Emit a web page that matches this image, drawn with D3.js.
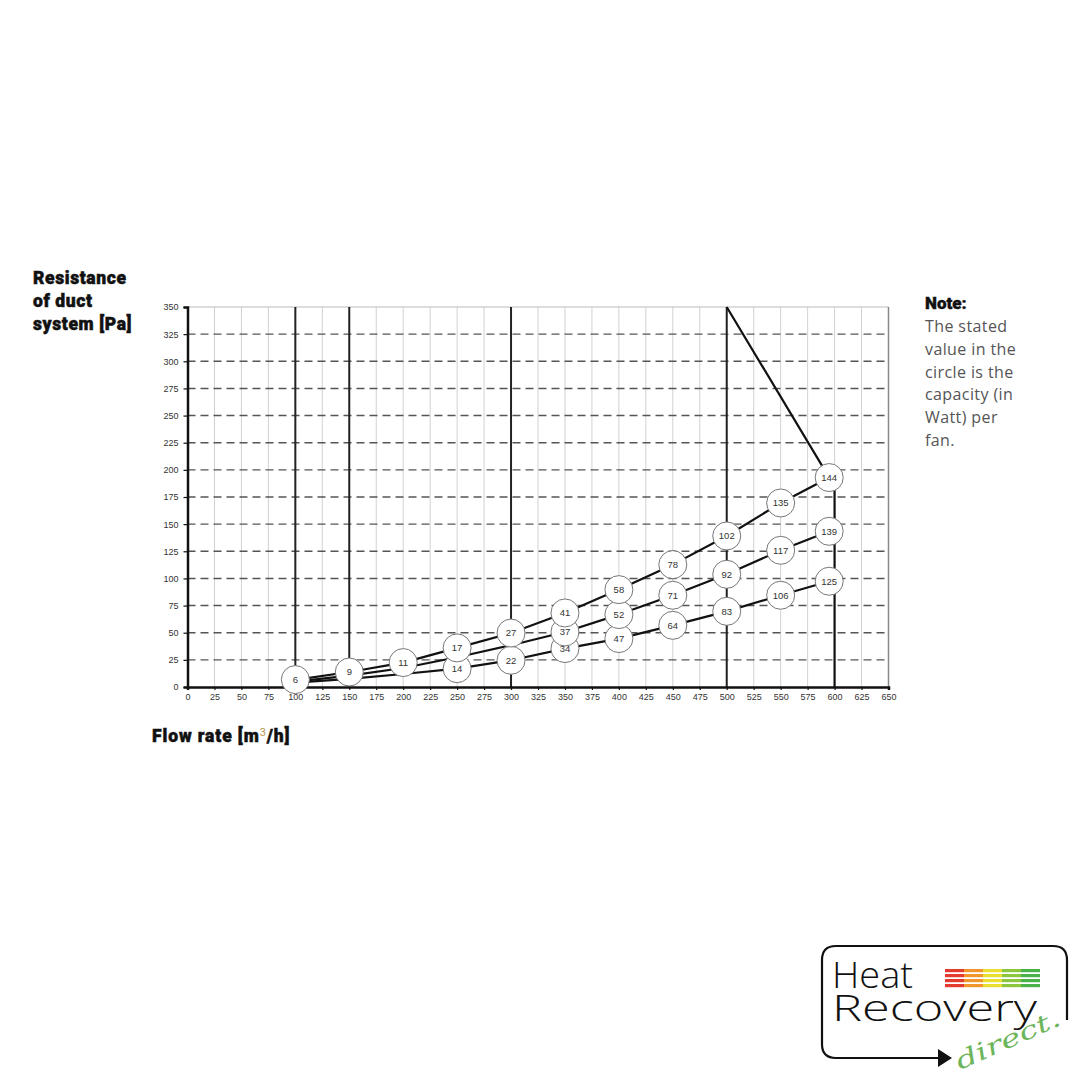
<!DOCTYPE html>
<html>
<head>
<meta charset="utf-8">
<script src="https://cdn.jsdelivr.net/npm/d3@7"></script>
<style>
  html, body { margin: 0; padding: 0; background: #fff; }
  svg { display: block; }
</style>
</head>
<body>
<svg id="chart" width="1080" height="1080"></svg>
<script>
// ---------- data ----------
const flowTicks = d3.range(0, 651, 25);
const pressureTicks = d3.range(0, 351, 25);
const heavyVerticals = [100, 150, 300, 500];

// three fan curves: [flow, pressure]
const upperCurve = [[100, 6.5], [150, 13.8], [200, 22.5], [250, 36], [300, 49.7], [350, 68.2], [400, 89.7], [450, 112.7], [500, 139.1], [550, 169.5], [595, 192.9]];
const middleCurve = [[100, 5], [150, 10.5], [200, 17.5], [250, 27.4], [300, 38.5], [350, 50.7], [400, 66.7], [450, 84.5], [500, 103.8], [550, 125.9], [595, 143.4]];
const lowerCurve = [[100, 4], [150, 7.5], [200, 12], [250, 16.9], [300, 24.6], [350, 35.4], [400, 44.6], [450, 56.8], [500, 69.7], [550, 84.5], [595, 97.4]];
// boundary (max) line
const boundaryLine = [[500, 350], [595, 192.9], [600, 185], [600, 0]];

// capacity labels (Watt) shown in circles: [flow, pressure, watt]
const upperLabels = [[100, 6.8, 6], [150, 13.8, 9], [200, 22.5, 11], [250, 36, 17], [300, 49.7, 27], [350, 68.2, 41], [400, 89.7, 58], [450, 112.7, 78], [500, 139.1, 102], [550, 169.5, 135], [595, 192.9, 144]];
const middleLabels = [[350, 50.7, 37], [400, 66.7, 52], [450, 84.5, 71], [500, 103.8, 92], [550, 125.9, 117], [595, 143.4, 139]];
const lowerLabels = [[250, 16.9, 14], [300, 24.6, 22], [350, 35.4, 34], [400, 44.6, 47], [450, 56.8, 64], [500, 69.7, 83], [550, 84.5, 106], [595, 97.4, 125]];

const yTitleLines = ["Resistance", "of duct", "system [Pa]"];
const noteLines = ["The stated", "value in the", "circle is the", "capacity (in", "Watt) per", "fan."];

// ---------- drawing ----------
const svg = d3.select("#chart");
svg.append("rect").attr("width", 1080).attr("height", 1080).attr("fill", "#fff");

const x = d3.scaleLinear().domain([0, 650]).range([187.5, 888.5]);
const y = d3.scaleLinear().domain([0, 350]).range([687, 307]);

const g = svg.append("g");

// light vertical grid
g.selectAll(".vgrid").data(flowTicks.filter(d => d > 0 && d < 650)).enter().append("line")
  .attr("x1", d => x(d)).attr("x2", d => x(d))
  .attr("y1", y(350)).attr("y2", y(0))
  .attr("stroke", "#d2d2d2").attr("stroke-width", 1);

// dashed horizontal grid
g.selectAll(".hgrid").data(pressureTicks.filter(d => d > 0 && d < 350)).enter().append("line")
  .attr("x1", x(0)).attr("x2", x(650))
  .attr("y1", d => y(d)).attr("y2", d => y(d))
  .attr("stroke", "#555").attr("stroke-width", 1.4)
  .attr("stroke-dasharray", "8,5");

// top border & right border
g.append("line").attr("x1", x(0)).attr("x2", x(650)).attr("y1", y(350)).attr("y2", y(350))
  .attr("stroke", "#bbb").attr("stroke-width", 1.2);
g.append("line").attr("x1", x(650)).attr("x2", x(650)).attr("y1", y(350)).attr("y2", y(0))
  .attr("stroke", "#888").attr("stroke-width", 1.5);

// heavy verticals
g.selectAll(".heavy").data(heavyVerticals).enter().append("line")
  .attr("x1", d => x(d)).attr("x2", d => x(d))
  .attr("y1", y(350)).attr("y2", y(0))
  .attr("stroke", "#222").attr("stroke-width", 2);

// axes
const xAxis = d3.axisBottom(x).tickValues(flowTicks).tickSize(3).tickPadding(4);
const yAxis = d3.axisLeft(y).tickValues(pressureTicks).tickSize(4).tickPadding(5);
const gx = g.append("g").attr("transform", `translate(0,${y(0)})`).call(xAxis);
const gy = g.append("g").attr("transform", `translate(${x(0)},0)`).call(yAxis);
[gx, gy].forEach(a => {
  a.select(".domain").attr("stroke", "#111").attr("stroke-width", 2.5);
  a.selectAll(".tick line").attr("stroke", "#111").attr("stroke-width", 1.2);
  a.selectAll(".tick text").attr("fill", "#333")
    .style("font-family", "'Liberation Sans', Arial, sans-serif").style("font-size", "9px");
});

// curves
const line = d3.line().x(d => x(d[0])).y(d => y(d[1]));
[upperCurve, middleCurve, lowerCurve, boundaryLine].forEach(c => {
  g.append("path").attr("d", line(c)).attr("fill", "none")
    .attr("stroke", "#111").attr("stroke-width", 2.2).attr("stroke-linejoin", "round");
});

// circles
const allLabels = [...lowerLabels, ...middleLabels, ...upperLabels];
const circ = g.selectAll(".lab").data(allLabels).enter().append("g")
  .attr("transform", d => `translate(${x(d[0])},${y(d[1])})`);
circ.append("circle").attr("r", 14).attr("fill", "#fff").attr("stroke", "#777").attr("stroke-width", 1);
circ.append("text").text(d => d[2]).attr("text-anchor", "middle").attr("dy", "0.35em")
  .attr("fill", "#333").style("font-family", "'Liberation Sans', Arial, sans-serif").style("font-size", "9.5px");

// y title
svg.append("text").attr("x", 33).attr("y", 284)
  .style("font-family", "Roboto, 'Noto Sans', sans-serif").style("font-weight", 900)
  .style("font-size", "17.5px").attr("fill", "#111").style("letter-spacing", "0.6px")
  .attr("stroke", "#111").attr("stroke-width", 0.5)
  .selectAll("tspan").data(yTitleLines).enter().append("tspan")
  .attr("x", 33).attr("dy", (d, i) => i === 0 ? 0 : 23).text(d => d);

// x title
const xt = svg.append("text").attr("x", 152).attr("y", 742)
  .style("font-family", "Roboto, 'Noto Sans', sans-serif").style("font-weight", 900)
  .style("font-size", "17.5px").attr("fill", "#111").style("letter-spacing", "0.9px")
  .attr("stroke", "#111").attr("stroke-width", 0.5);
xt.append("tspan").text("Flow rate [m");
xt.append("tspan").text("3").attr("dy", -6).style("font-size", "11px").style("font-weight", 400)
  .attr("fill", "#b8954a").attr("stroke", "none");
xt.append("tspan").text("/h]").attr("dy", 6);

// note
svg.append("text").attr("x", 925).attr("y", 309).text("Note:")
  .style("font-family", "Roboto, 'Noto Sans', sans-serif").style("font-weight", 900)
  .style("font-size", "17px").attr("fill", "#111").attr("stroke", "#111").attr("stroke-width", 0.4);
svg.append("text").attr("x", 925).attr("y", 332)
  .style("font-family", "'Open Sans', 'Noto Sans', sans-serif").style("font-size", "16px").attr("fill", "#555")
  .style("letter-spacing", "0.4px")
  .selectAll("tspan").data(noteLines).enter().append("tspan")
  .attr("x", 925).attr("dy", (d, i) => i === 0 ? 0 : 22.8).text(d => d);

// ---------- logo ----------
const logo = svg.append("g");
logo.append("path")
  .attr("d", "M 950 1058 L 836 1058 Q 822 1058 822 1044 L 822 960 Q 822 946 836 946 L 1053 946 Q 1067 946 1067 960 L 1067 1020")
  .attr("fill", "none").attr("stroke", "#111").attr("stroke-width", 2.2);
logo.append("path").attr("d", "M 938 1049 L 952 1058 L 938 1067 Z").attr("fill", "#111");
const logoText = logo.append("text")
  .style("font-family", "'Open Sans', 'Noto Sans', sans-serif").style("font-weight", 300)
  .style("font-size", "37px").attr("fill", "#111");
logoText.append("tspan").attr("x", 832).attr("y", 988).text("Heat")
  .attr("textLength", 81).attr("lengthAdjust", "spacingAndGlyphs");
logoText.append("tspan").attr("x", 832).attr("y", 1021).text("Recovery")
  .attr("textLength", 205).attr("lengthAdjust", "spacingAndGlyphs");
const barColors = ["#e53a2f", "#f0962a", "#e9df2e", "#8cc63f", "#4bb24a"];
barColors.forEach((c, i) => {
  for (let k = 0; k < 4; k++) {
    logo.append("rect").attr("x", 945 + i * 19).attr("y", 969 + k * 5).attr("width", 19).attr("height", 3.2).attr("fill", c);
  }
});
logo.append("text").attr("transform", "translate(960,1070) rotate(-24)").text("direct.")
  .attr("textLength", 112).attr("lengthAdjust", "spacingAndGlyphs")
  .style("font-family", "'DejaVu Serif', serif").style("font-style", "italic").style("font-weight", 300)
  .style("font-size", "24px").attr("fill", "#6cb55a");
</script>
</body>
</html>
